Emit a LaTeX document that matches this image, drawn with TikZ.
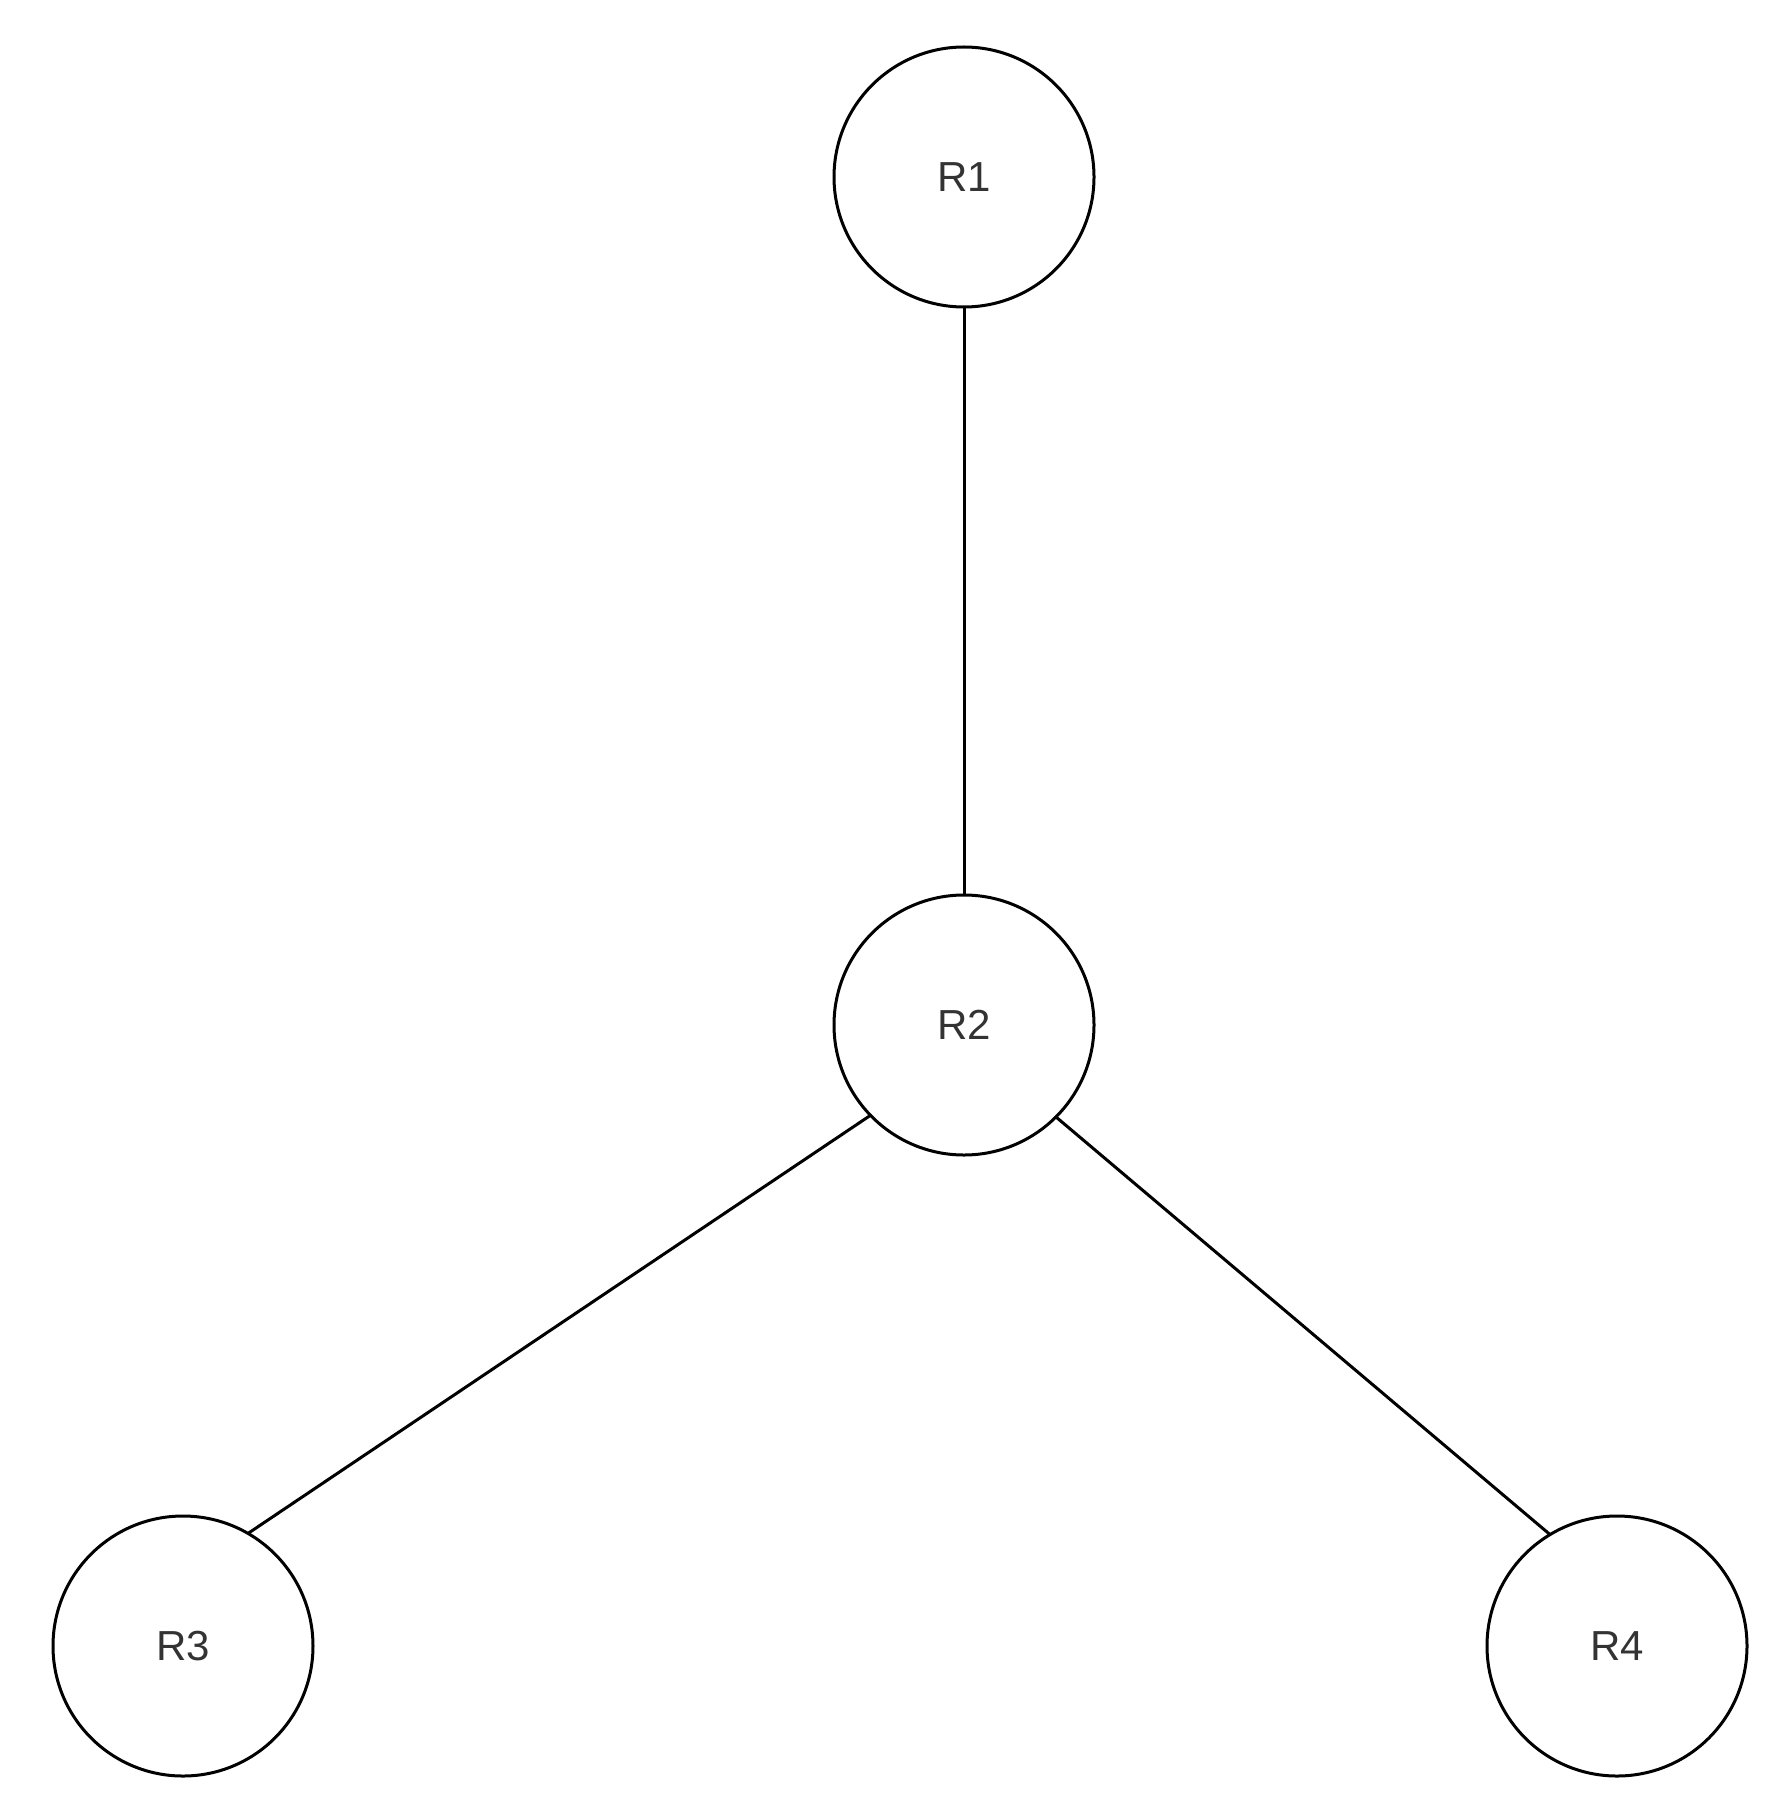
\documentclass[tikz,border=0pt]{standalone}
\usepackage{fontspec}
\setmainfont{Liberation Sans}
\definecolor{txt}{HTML}{333333}
\begin{document}
\begin{tikzpicture}[x=1pt,y=-1pt,
  router/.style={circle,draw=black,line width=3pt,minimum size=260pt,inner sep=0pt,outer sep=0pt,
    font=\fontsize{42}{50}\selectfont,text=txt},
  link/.style={draw=black,line width=3pt}]
\useasboundingbox (0,0) rectangle (1784,1811);
\clip (51,0) rectangle (1784,1811);
\node[router] (r1) at (964,177) {R1};
\node[router] (r2) at (964,1025) {R2};
\node[router] (r3) at (183,1646) {R3};
\node[router] (r4) at (1617,1646) {R4};
\draw[link] (r1.south) -- (r2.north);
\draw[link] (r2.224.7) -- (r3.60.3);
\draw[link] (r2.315.3) -- (r4.121.8);
\end{tikzpicture}
\end{document}
